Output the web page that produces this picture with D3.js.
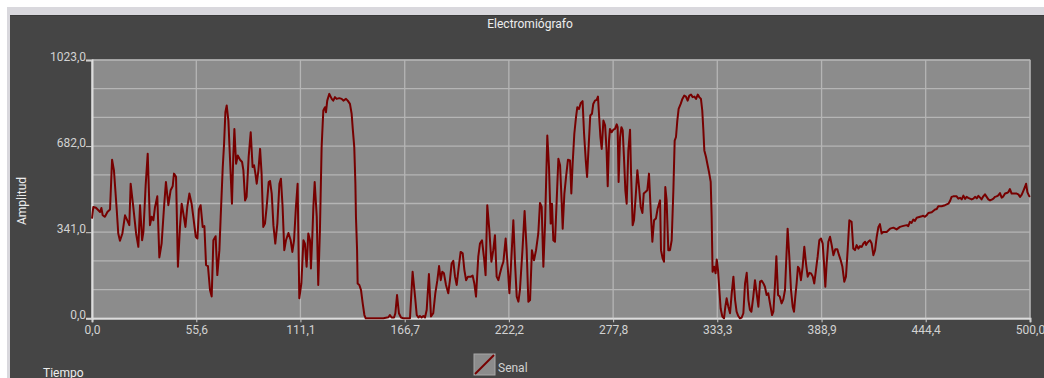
<!DOCTYPE html>
<html>
<head>
<meta charset="utf-8">
<script src="https://cdn.jsdelivr.net/npm/d3@7"></script>
<style>
  body { margin: 0; background: #fff; }
  svg { display: block; font-family: Roboto, "Noto Sans", sans-serif; }
</style>
</head>
<body>
<div id="chart"></div>
<script>
// chart texts
var titulo = "Electromiógrafo";
var ejeX = "Tiempo";
var ejeY = "Amplitud";
var serie = "Senal";

// tick values
var xTicks = [0, 55.6, 111.1, 166.7, 222.2, 277.8, 333.3, 388.9, 444.4, 500];
var yTicks = [0, 341, 682, 1023];
var yGrid = [0, 113.67, 227.33, 341, 454.67, 568.33, 682, 795.67, 909.33, 1023];

// data
var tiempo = [
  0,0.7,2.1,3.4,4.3,5.0,5.7,6.9,8.2,9.6,10.7,11.7,13.2,14.0,14.9,16.2,17.6,18.8,19.9,20.6,
  22.0,23.5,24.7,25.6,26.7,27.4,28.6,29.7,30.9,31.8,32.7,33.6,34.8,35.9,37.1,38.4,39.4,40.7,41.9,43.0,
  43.7,44.8,45.8,46.9,47.8,48.7,49.8,50.8,51.9,53.1,54.0,55.3,56.2,57.0,57.9,59.0,59.9,60.8,61.8,62.9,
  63.8,64.7,65.9,66.8,67.9,68.6,69.7,70.4,71.1,71.8,72.7,73.6,74.6,75.3,75.9,76.8,77.7,78.9,80.0,80.7,
  81.6,82.4,83.5,84.6,85.6,86.4,87.1,87.8,88.7,89.6,90.4,91.3,92.2,93.1,94.2,94.9,95.8,96.7,97.7,98.8,
  99.9,100.7,101.6,102.5,103.4,104.7,105.9,106.8,107.7,108.7,109.6,110.5,111.6,112.7,113.5,114.4,115.3,116.2,116.7,117.5,
  118.0,118.7,119.8,120.6,121.5,122.4,123.3,124.2,124.7,125.4,126.5,127.8,128.6,129.5,130.4,131.8,133.1,134.0,135.4,136.3,
  137.5,138.4,139.0,139.8,140.4,140.7,141.3,141.6,142.5,143.4,144.3,145.2,145.9,148.2,151.7,155.3,158.0,158.8,159.7,161.0,
  161.7,162.6,163.6,164.7,166.0,167.7,169.5,170.9,172.2,173.1,174.0,174.8,175.7,176.6,177.5,178.4,179.6,180.7,181.9,183.0,
  184.1,185.0,185.9,186.7,187.6,188.7,189.9,190.8,191.7,192.6,193.5,194.4,195.5,196.5,197.6,198.5,199.4,200.4,201.5,202.0,
  202.9,203.8,204.7,205.9,206.8,207.9,209.0,209.8,210.7,211.8,212.9,213.9,214.8,215.7,216.6,217.5,218.4,219.3,220.5,221.6,
  222.5,223.3,224.6,225.5,226.4,227.3,228.1,229.4,230.6,231.7,232.6,233.5,234.5,235.6,236.7,237.9,238.8,239.7,240.6,241.5,
  242.7,243.6,244.5,245.2,245.9,246.8,247.7,248.6,249.5,250.4,250.9,251.8,252.7,253.7,254.8,255.5,256.2,257.1,258.0,258.7,
  259.6,260.5,261.5,262.3,263.2,263.9,264.8,265.6,266.5,267.2,268.1,269.0,269.7,270.3,271.0,271.7,272.6,273.5,274.3,274.9,
  275.6,276.1,277.0,277.9,278.8,279.7,280.2,280.7,281.5,282.2,282.9,283.6,284.3,285.0,285.9,286.8,287.3,288.2,288.9,289.8,
  290.7,291.6,292.5,293.4,294.1,295.0,296.0,296.9,297.8,298.7,299.6,300.6,301.5,302.8,303.3,304.2,304.9,305.6,306.3,307.2,
  308.1,309.0,309.9,310.6,311.3,312.0,312.7,313.8,314.7,315.7,316.6,317.5,318.4,319.3,320.2,321.1,322.0,322.9,323.7,324.6,
  325.3,325.9,326.4,327.3,328.0,328.9,329.8,330.3,330.8,331.6,332.4,333.0,333.7,334.4,335.1,336.0,336.9,337.6,338.3,339.2,
  340.1,341.0,341.9,342.8,343.6,344.5,345.4,346.3,347.2,348.1,349.0,349.9,350.7,351.5,352.5,353.4,354.3,355.2,356.1,357.0,
  357.9,358.7,359.6,360.5,361.4,362.5,363.2,364.1,364.8,365.7,366.6,367.6,368.5,369.4,370.3,370.8,371.7,372.6,373.5,374.2,
  374.9,375.6,376.3,377.0,377.9,378.8,379.7,380.6,381.5,382.4,383.3,384.2,385.0,385.9,386.8,387.7,388.6,389.5,390.2,390.9,
  391.6,392.5,393.4,394.3,395.2,396.2,397.3,398.2,399.1,400.0,401.0,401.9,402.8,403.7,404.9,405.8,406.7,407.6,408.5,409.4,
  410.3,411.2,412.1,412.6,413.3,414.0,414.7,415.6,416.5,417.4,418.3,419.2,420.0,420.9,421.8,423.6,425.4,427.2,428.9,430.7,
  432.5,434.3,435.1,436.0,436.9,437.8,438.7,439.6,441.4,442.3,443.1,444.0,444.9,445.8,447.6,449.4,450.3,451.1,452.9,454.7,
  456.5,457.4,458.2,459.1,460.9,461.8,462.7,463.6,464.5,465.4,466.2,467.1,468.9,469.8,470.7,471.6,472.5,473.4,474.2,475.1,
  476.0,476.9,477.8,478.7,479.6,480.5,481.3,482.2,483.1,484.0,484.9,485.8,486.7,487.6,488.5,489.3,490.2,491.1,492.9,493.8,
  494.7,495.6,496.4,497.3,497.9,498.6,499.5,500.0
];
var amplitud = [
  395,441,438,428,421,437,408,402,421,431,628,586,428,336,307,336,408,388,369,533,
  441,336,283,448,309,342,527,652,369,402,388,441,483,241,296,441,540,448,507,523,
  573,560,204,362,454,415,362,441,494,454,402,323,316,431,448,362,365,211,207,112,
  86,309,325,171,270,402,599,691,816,843,783,625,454,639,750,612,645,628,619,586,
  467,481,639,737,599,606,573,533,586,671,573,362,375,441,540,544,494,369,296,375,
  533,553,441,270,309,338,309,263,309,441,533,79,138,309,296,204,336,309,197,336,
  441,540,402,132,349,678,823,836,816,862,889,869,862,876,869,872,869,862,869,862,
  849,810,750,678,533,402,270,138,132,112,59,13,0,0,0,0,4,13,3,3,
  20,92,20,3,0,0,0,184,86,13,3,9,3,9,3,33,175,7,20,99,
  151,207,151,184,178,132,99,151,217,228,165,132,204,263,257,191,151,165,165,165,
  169,138,86,244,296,309,237,171,448,349,224,270,329,165,151,178,204,224,316,204,
  99,204,388,217,86,66,112,263,425,270,66,72,270,230,270,336,457,441,204,375,
  724,599,375,454,309,303,467,632,606,454,355,494,560,628,625,494,612,731,797,836,
  829,852,860,731,625,560,691,803,810,849,862,865,878,803,718,671,783,764,665,523,
  704,750,737,747,750,768,757,540,718,757,744,632,507,454,665,747,586,369,388,481,
  586,520,441,417,494,500,507,573,428,303,388,395,434,467,270,237,224,520,467,270,
  270,309,507,704,718,783,829,849,869,882,878,862,882,886,876,878,869,886,876,869,
  823,744,665,639,612,579,540,402,184,204,178,233,191,112,39,7,0,46,79,46,
  20,99,165,72,26,9,0,3,20,138,180,72,33,26,86,151,99,46,145,149,
  138,125,92,99,59,13,26,138,246,92,86,59,75,112,270,355,244,112,46,26,
  86,138,204,197,151,204,283,217,165,180,178,165,138,191,244,309,316,296,217,125,
  217,303,323,290,250,273,273,250,230,204,145,165,270,388,382,276,270,290,276,286,
  283,296,303,290,299,305,309,296,250,270,323,362,373,336,342,342,355,359,352,362,
  366,369,365,382,378,391,386,398,402,404,406,402,408,417,420,431,433,444,444,448,
  454,465,481,483,483,474,477,471,486,473,481,477,471,474,481,475,485,478,471,483,
  491,481,471,467,470,474,481,483,487,496,478,483,494,496,500,512,494,494,494,491,
  481,490,504,520,533,500,485,481
];

var W = 1044, H = 378;
var margin = {top: 60, right: 14, bottom: 60, left: 92};
var w = W - margin.left - margin.right,
    h = 318.3 - margin.top;

var fmt = function(v) { return d3.format(".1f")(v).replace(".", ","); };

var svg = d3.select("#chart")
            .append("svg")
            .attr("width", W)
            .attr("height", H);

/***Frame***/
svg.append("rect")
   .attr("x", 7).attr("y", 7)
   .attr("width", W - 7).attr("height", H - 7)
   .attr("fill", "#d9d8dd");
svg.append("rect")
   .attr("x", 10).attr("y", 15)
   .attr("width", W - 10).attr("height", H - 15)
   .attr("fill", "#454545");
svg.append("line")
   .attr("x1", 10).attr("x2", W)
   .attr("y1", 15.5).attr("y2", 15.5)
   .attr("stroke", "#3a3a3a");

/***Title***/
svg.append("text")
   .attr("x", 530).attr("y", 28)
   .attr("text-anchor", "middle")
   .attr("fill", "#ededed")
   .style("font-size", "12px")
   .text(titulo);

var g = svg.append("g")
           .attr("transform", "translate(" + margin.left + "," + margin.top + ")");

/***Scales***/
var xScale = d3.scaleLinear()
               .domain([0, 500])
               .range([0, w]);
var yScale = d3.scaleLinear()
               .domain([0, 1023])
               .range([h, 0]);

/***Plot background***/
g.append("rect")
 .attr("width", w).attr("height", h)
 .attr("fill", "#8c8c8c")
 .attr("stroke", "#a2a2a2");

/***Grid***/
g.selectAll(".hgrid")
 .data(yGrid)
 .enter()
 .append("line")
 .attr("class", "hgrid")
 .attr("x1", 0).attr("x2", w)
 .attr("y1", function(d) { return yScale(d); })
 .attr("y2", function(d) { return yScale(d); })
 .attr("stroke", "#b5b5b5")
 .attr("stroke-width", 1.3);

g.selectAll(".vgrid")
 .data(xTicks)
 .enter()
 .append("line")
 .attr("class", "vgrid")
 .attr("y1", 0).attr("y2", h)
 .attr("x1", function(d) { return xScale(d); })
 .attr("x2", function(d) { return xScale(d); })
 .attr("stroke", "#b5b5b5")
 .attr("stroke-width", 1.3);

/***Axes***/
var xAxis = d3.axisBottom(xScale)
              .tickValues(xTicks)
              .tickSize(4)
              .tickFormat(fmt);
var yAxis = d3.axisLeft(yScale)
              .tickValues(yTicks)
              .tickSize(6)
              .tickFormat(fmt);

var gx = g.append("g")
          .attr("transform", "translate(0," + h + ")")
          .call(xAxis);
var gy = g.append("g")
          .call(yAxis);

[gx, gy].forEach(function(a) {
  a.select(".domain").attr("stroke", "#dcdcdc").attr("stroke-width", 2);
  a.selectAll(".tick line").attr("stroke", "#cfcfcf");
  a.selectAll(".tick text")
   .attr("fill", "#d2d2d2")
   .style("font-size", "12px")
   .style("font-family", "Roboto, sans-serif");
});
gx.selectAll(".tick text").attr("dy", "0.95em").attr("y", 4);
gy.selectAll(".tick text").attr("x", -6).attr("dy", "0.05em");

/***Signal line***/
var puntos = tiempo.map(function(t, i) { return [t, amplitud[i]]; });
var linea = d3.line()
              .x(function(d) { return xScale(d[0]); })
              .y(function(d) { return yScale(d[1]); });

g.append("path")
 .datum(puntos)
 .attr("d", linea)
 .attr("fill", "none")
 .attr("stroke", "#770000")
 .attr("stroke-width", 2)
 .attr("stroke-linejoin", "round");

/***Axis titles***/
svg.append("text")
   .attr("transform", "translate(26,201) rotate(-90)")
   .attr("text-anchor", "middle")
   .attr("fill", "#ededed")
   .style("font-size", "12px")
   .text(ejeY);

svg.append("text")
   .attr("x", 43).attr("y", 377)
   .attr("fill", "#ededed")
   .style("font-size", "12px")
   .text(ejeX);

/***Legend***/
var leg = svg.append("g").attr("transform", "translate(474,354)");
leg.append("rect")
   .attr("width", 21).attr("height", 21)
   .attr("fill", "#8c8c8c")
   .attr("stroke", "#a8a8a8");
leg.append("line")
   .attr("x1", 1).attr("y1", 20)
   .attr("x2", 20).attr("y2", 1)
   .attr("stroke", "#770000")
   .attr("stroke-width", 2);
leg.append("text")
   .attr("x", 24).attr("y", 17.5)
   .attr("fill", "#d2d2d2")
   .style("font-size", "12px")
   .text(serie);
</script>
</body>
</html>
